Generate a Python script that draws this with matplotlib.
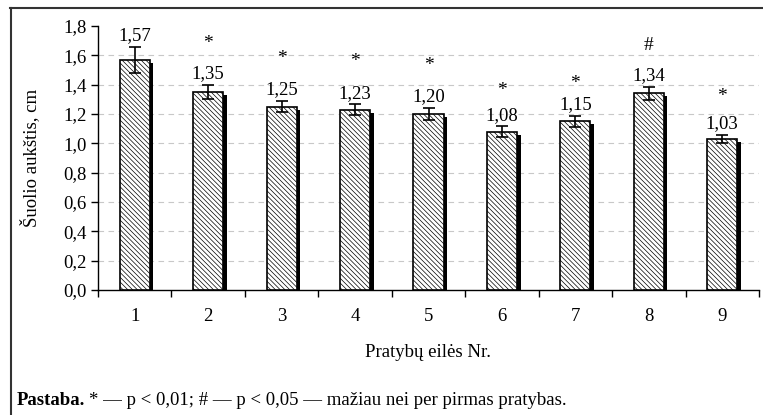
import matplotlib
matplotlib.use("Agg")
import matplotlib.pyplot as plt
from matplotlib.lines import Line2D
from matplotlib.transforms import offset_copy
import numpy as np

plt.rcParams['font.family'] = ['Liberation Serif', 'DejaVu Serif']
plt.rcParams['hatch.linewidth'] = 0.5

categories = ['1', '2', '3', '4', '5', '6', '7', '8', '9']
values = [1.57, 1.35, 1.25, 1.23, 1.20, 1.08, 1.15, 1.34, 1.03]
errors = [0.09, 0.05, 0.037, 0.035, 0.04, 0.035, 0.037, 0.047, 0.028]
value_labels = ['1,57', '1,35', '1,25', '1,23', '1,20', '1,08', '1,15', '1,34', '1,03']
markers = ['', '*', '*', '*', '*', '*', '*', '#', '*']
marker_y = [None, 1.68, 1.58, 1.56, 1.53, 1.36, 1.41, 1.67, 1.32]
yticks = [0.0, 0.2, 0.4, 0.6, 0.8, 1.0, 1.2, 1.4, 1.6, 1.8]
ytick_labels = ['0,0', '0,2', '0,4', '0,6', '0,8', '1,0', '1,2', '1,4', '1,6', '1,8']

FS = 13.5
W, H = 763, 415
fig = plt.figure(figsize=(W / 100, H / 100), dpi=100)
ax = fig.add_axes([98 / W, 1 - 290 / H, (759 - 98) / W, (290 - 26) / H])

x = np.arange(1, len(values) + 1)
bw = 0.41
shadow_tr = offset_copy(ax.transData, fig=fig, x=3.5, y=-3, units='dots')
ax.bar(x, values, width=bw, color='black', edgecolor='black', linewidth=0,
       transform=shadow_tr, zorder=2)
ax.bar(x, values, width=bw, color='white', edgecolor='black', linewidth=1.2,
       hatch='\\\\\\\\\\\\\\', zorder=3)
ax.errorbar(x, values, yerr=errors, fmt='none', ecolor='black', elinewidth=1.2,
            capsize=4, capthick=1.2, zorder=4)

for xi, v, e, lab in zip(x, values, errors, value_labels):
    ax.annotate(lab, (xi, v + e), xytext=(0, 2), textcoords='offset points',
                ha='center', va='bottom', fontsize=FS)
for xi, m, my in zip(x, markers, marker_y):
    if m:
        ax.text(xi, my, m, ha='center', va='center', fontsize=FS + 0.5)

ax.set_xlim(0.5, len(values) + 0.5)
ax.set_ylim(0, 1.8)
ax.set_yticks(yticks)
ax.set_yticklabels(ytick_labels, fontsize=FS)
ax.set_xticks(x)
ax.set_xticklabels(categories, fontsize=FS)
ax.set_xticks(np.arange(0.5, len(values) + 1.0, 1.0), minor=True)
ax.tick_params(axis='x', which='major', length=0, pad=13)
ax.tick_params(axis='x', which='minor', length=5, direction='out', width=1)
ax.tick_params(axis='y', length=5, direction='out', width=1, pad=3)
for yv in yticks[1:-1]:
    ax.axhline(yv, color='#c8c8c8', linestyle=(0, (5, 4)), linewidth=0.8, zorder=1)
ax.spines['top'].set_visible(False)
ax.spines['right'].set_visible(False)
ax.spines['left'].set_linewidth(1)
ax.spines['bottom'].set_linewidth(1)

ax.set_ylabel('Šuolio aukštis, cm', fontsize=FS, labelpad=17)
fig.text(428 / W, 1 - 352 / H, 'Pratybų eilės Nr.', ha='center', va='center', fontsize=FS)

t1 = fig.text(17 / W, 1 - 400 / H, 'Pastaba.', ha='left', va='center',
              fontsize=FS, fontweight='bold')
fig.canvas.draw()
bb = t1.get_window_extent()
fig.text((bb.x1 + 4) / W, 1 - 400 / H,
         '* — p < 0,01; # — p < 0,05 — mažiau nei per pirmas pratybas.',
         ha='left', va='center', fontsize=FS)

fig.add_artist(Line2D([10.5 / W, 10.5 / W], [0, 1 - 8.5 / H], transform=fig.transFigure,
                      color='#333333', linewidth=1.5))
fig.add_artist(Line2D([10 / W, 1], [1 - 8.5 / H, 1 - 8.5 / H], transform=fig.transFigure,
                      color='#333333', linewidth=1.5))

fig.savefig('out.png', dpi=100)
